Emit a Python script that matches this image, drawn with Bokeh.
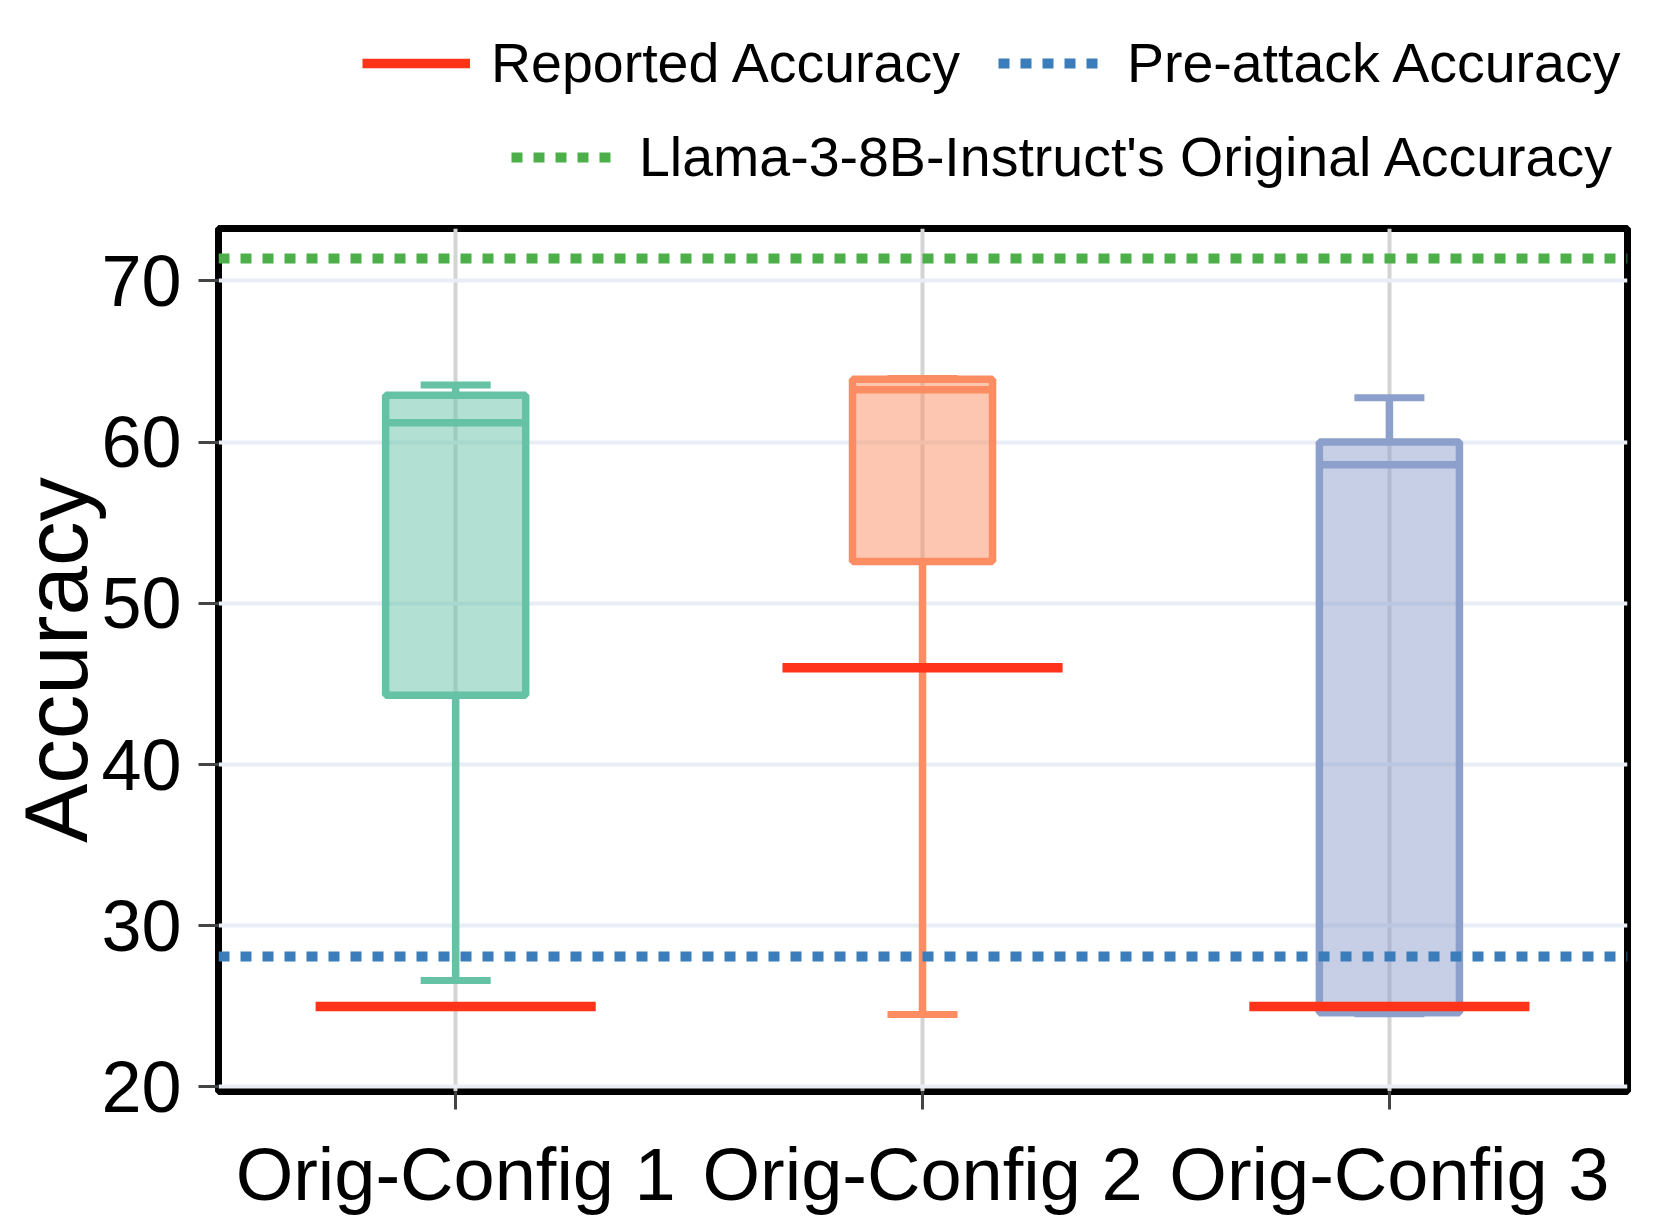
import numpy as np
from bokeh.plotting import figure
from bokeh.layouts import column
from bokeh.models import FixedTicker, Legend, LegendItem, Range1d
from bokeh.embed import file_html
from bokeh.resources import INLINE

# ---------------- data ----------------
categories = ["Orig-Config 1", "Orig-Config 2", "Orig-Config 3"]
whisker_low = [26.6, 24.5, 24.55]
q1 = [44.3, 52.6, 24.6]
median = [61.2, 63.25, 58.6]
q3 = [62.9, 63.9, 60.0]
whisker_high = [63.55, 63.95, 62.75]
reported_accuracy = [25.0, 46.0, 25.0]
pre_attack_accuracy = 28.1
original_accuracy = 71.4
y_ticks = [20, 30, 40, 50, 60, 70]
legend_labels = ["Reported Accuracy", "Pre-attack Accuracy",
                 "Llama-3-8B-Instruct's Original Accuracy"]

edge_colors = ["#66c2a5", "#fc8d62", "#8da0cb"]
REP_COLOR = "#ff3319"
PRE_COLOR = "#3a7dba"
ORIG_COLOR = "#4daf4a"
FONT = "Liberation Sans"

pos = np.arange(len(categories), dtype=float)
box_w = 0.30
cap_w = 0.15
rep_w = 0.60

# ---------------- main plot ----------------
p = figure(width=1660, height=998, output_backend="svg", toolbar_location=None,
           x_range=Range1d(-0.508, 2.51), y_range=Range1d(19.72, 73.25),
           min_border_left=218, min_border_right=33, min_border_top=8,
           min_border_bottom=126)
p.background_fill_color = "white"
p.border_fill_color = "white"
p.outline_line_color = "black"
p.outline_line_width = 7

p.xgrid.ticker = FixedTicker(ticks=list(pos))
p.xgrid.grid_line_color = "#d4d4d4"
p.xgrid.grid_line_width = 4
p.ygrid.ticker = FixedTicker(ticks=y_ticks)
p.ygrid.grid_line_color = "#e9eef6"
p.ygrid.grid_line_width = 4

p.xaxis.ticker = FixedTicker(ticks=list(pos))
overrides = {float(i): c for i, c in enumerate(categories)}
overrides.update({i: c for i, c in enumerate(categories)})
p.xaxis.major_label_overrides = overrides
p.yaxis.ticker = FixedTicker(ticks=y_ticks)
for ax in (p.xaxis[0], p.yaxis[0]):
    ax.axis_line_color = None
    ax.major_tick_line_color = "#444444"
    ax.major_tick_line_width = 3
    ax.major_tick_in = 0
    ax.minor_tick_line_color = None
    ax.major_label_text_font = FONT
    ax.major_label_text_color = "black"
p.xaxis.major_tick_out = 18
p.yaxis.major_tick_out = 20
p.xaxis.major_label_text_font_size = "74px"
p.yaxis.major_label_text_font_size = "72px"
p.xaxis.major_label_standoff = 23
p.yaxis.major_label_standoff = 17
p.yaxis.axis_label = "Accuracy"
p.yaxis.axis_label_text_font = FONT
p.yaxis.axis_label_text_font_size = "89px"
p.yaxis.axis_label_text_font_style = "normal"
p.yaxis.axis_label_text_color = "black"
p.yaxis.axis_label_standoff = -8

# boxes
p.vbar(x=pos, width=box_w, bottom=q1, top=q3, fill_color=edge_colors,
       fill_alpha=0.5, line_color=edge_colors, line_width=7.5)
p.segment(x0=pos - box_w / 2, x1=pos + box_w / 2, y0=median, y1=median,
          line_color=edge_colors, line_width=7.5)
p.segment(x0=pos, x1=pos, y0=q3, y1=whisker_high, line_color=edge_colors, line_width=7.5)
p.segment(x0=pos, x1=pos, y0=q1, y1=whisker_low, line_color=edge_colors, line_width=7.5)
p.segment(x0=pos - cap_w / 2, x1=pos + cap_w / 2, y0=whisker_high, y1=whisker_high,
          line_color=edge_colors, line_width=7)
p.segment(x0=pos - cap_w / 2, x1=pos + cap_w / 2, y0=whisker_low, y1=whisker_low,
          line_color=edge_colors, line_width=7)

# reference lines
p.hspan(y=[pre_attack_accuracy], line_color=PRE_COLOR, line_width=10, line_dash="11 11")
p.hspan(y=[original_accuracy], line_color=ORIG_COLOR, line_width=10, line_dash="11 11")
# reported accuracy
p.segment(x0=pos - rep_w / 2, x1=pos + rep_w / 2, y0=reported_accuracy,
          y1=reported_accuracy, line_color=REP_COLOR, line_width=9.5)

# ---------------- legend strip (frame aligned with the main plot) ----------------
lf = figure(width=1660, height=220, output_backend="svg", toolbar_location=None,
            x_range=Range1d(-0.508, 2.51), y_range=Range1d(0, 1),
            x_axis_type=None, y_axis_type=None,
            min_border_left=0, min_border_right=0, min_border_top=0,
            min_border_bottom=0)
lf.outline_line_color = None
lf.background_fill_color = "white"
lf.border_fill_color = "white"
# legend proxies: same data, lying outside this strip's y range, so only the legend shows them
l_rep = lf.line(x=pos, y=reported_accuracy, line_color=REP_COLOR, line_width=9.5)
l_pre = lf.line(x=pos, y=np.full(len(pos), pre_attack_accuracy), line_color=PRE_COLOR,
                line_width=10, line_dash="11 11")
l_orig = lf.line(x=pos, y=np.full(len(pos), original_accuracy), line_color=ORIG_COLOR,
                 line_width=10, line_dash="11 11")


def make_legend(items, loc, standoff):
    return Legend(items=items, location=loc, orientation="horizontal",
                  label_text_font=FONT, label_text_font_size="55.5px",
                  label_text_color="black", glyph_width=108, glyph_height=64,
                  label_height=64, label_standoff=standoff, spacing=38, padding=0,
                  margin=0, border_line_color=None, background_fill_alpha=0)


leg1 = make_legend([LegendItem(label=legend_labels[0], renderers=[l_rep]),
                    LegendItem(label=legend_labels[1], renderers=[l_pre])],
                   (144, 125.5), 21)
leg2 = make_legend([LegendItem(label=legend_labels[2], renderers=[l_orig])],
                   (293, 31), 20)
lf.add_layout(leg1, "center")
lf.add_layout(leg2, "center")

layout = column(lf, p, spacing=0)
open("out.html", "w").write(file_html(layout, INLINE))
